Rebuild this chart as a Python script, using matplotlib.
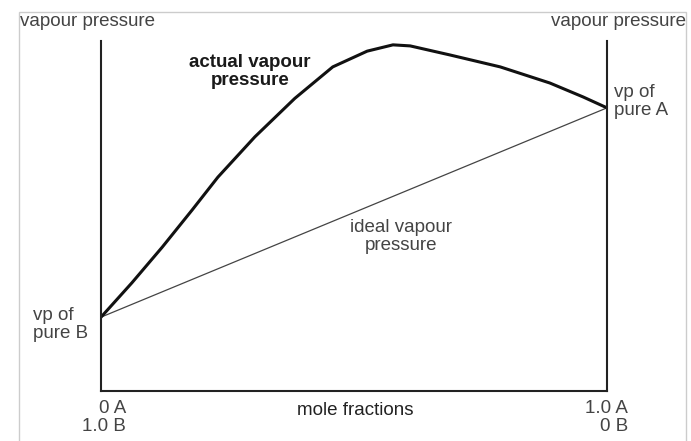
import matplotlib.pyplot as plt
from matplotlib.patches import Rectangle

# mole fraction of A along the bottom axis
ideal_x = [0.0, 1.0]
vp_pure_b = 21.1
vp_pure_a = 80.9

# actual (non-ideal) vapour pressure, positive deviation
actual_x = [0.0, 0.061, 0.121, 0.180, 0.231, 0.304, 0.383, 0.458,
            0.526, 0.577, 0.611, 0.690, 0.789, 0.887, 0.953, 1.0]
actual_p = [21.1, 30.9, 41.1, 51.7, 61.1, 72.6, 83.6, 92.6,
            97.1, 98.9, 98.6, 96.0, 92.6, 88.0, 84.0, 80.9]

W, H = 691, 441
plt.rcParams['font.family'] = ['Liberation Sans', 'DejaVu Sans']

fig = plt.figure(figsize=(W / 100, H / 100), dpi=100)
ax = fig.add_axes([101 / W, 1 - 391 / H, (607 - 101) / W, (391 - 41) / H])


def px(x, y):
    return x / W, 1 - y / H


ax.plot(ideal_x, [vp_pure_b, vp_pure_a], color='#444444', lw=0.9)
ax.plot(actual_x, actual_p, color='#111111', lw=2.2, solid_joinstyle='round')

ax.set_xlim(0, 1)
ax.set_ylim(0, 100)
ax.spines['top'].set_visible(False)
for s in ('left', 'right', 'bottom'):
    ax.spines[s].set_linewidth(1.5)
    ax.spines[s].set_color('#222222')
ax.set_xticks([])
ax.set_yticks([])
ax.patch.set_alpha(0)

# thin frame round the whole drawing
fig.patches.append(Rectangle(px(19, 445), (686 - 19) / W, (445 - 12) / H,
                             transform=fig.transFigure, fill=False,
                             edgecolor='#cccccc', lw=1.0))

grey = '#444444'
fs = 13.5
ls = 1.1
fig.text(*px(20, 13), 'vapour pressure', ha='left', va='top', fontsize=fs, color=grey)
fig.text(*px(686, 13), 'vapour pressure', ha='right', va='top', fontsize=fs, color=grey)

fig.text(*px(614, 84), 'vp of\npure A', ha='left', va='top', fontsize=fs,
         color=grey, linespacing=ls)
fig.text(*px(33, 307), 'vp of\npure B', ha='left', va='top', fontsize=fs,
         color=grey, linespacing=ls)

fig.text(*px(126, 400), '0 A\n1.0 B', ha='right', va='top', fontsize=fs,
         color=grey, linespacing=ls, multialignment='right')
fig.text(*px(628, 400), '1.0 A\n0 B', ha='right', va='top', fontsize=fs,
         color=grey, linespacing=ls, multialignment='right')
fig.text(*px(355, 402), 'mole fractions', ha='center', va='top', fontsize=fs, color='#222222')

fig.text(*px(250, 54), 'actual vapour\npressure', ha='center', va='top', fontsize=fs,
         color='#1a1a1a', fontweight='bold', linespacing=ls)
fig.text(*px(401, 219), 'ideal vapour\npressure', ha='center', va='top', fontsize=fs,
         color=grey, linespacing=ls)

fig.savefig('out.png', dpi=100)
